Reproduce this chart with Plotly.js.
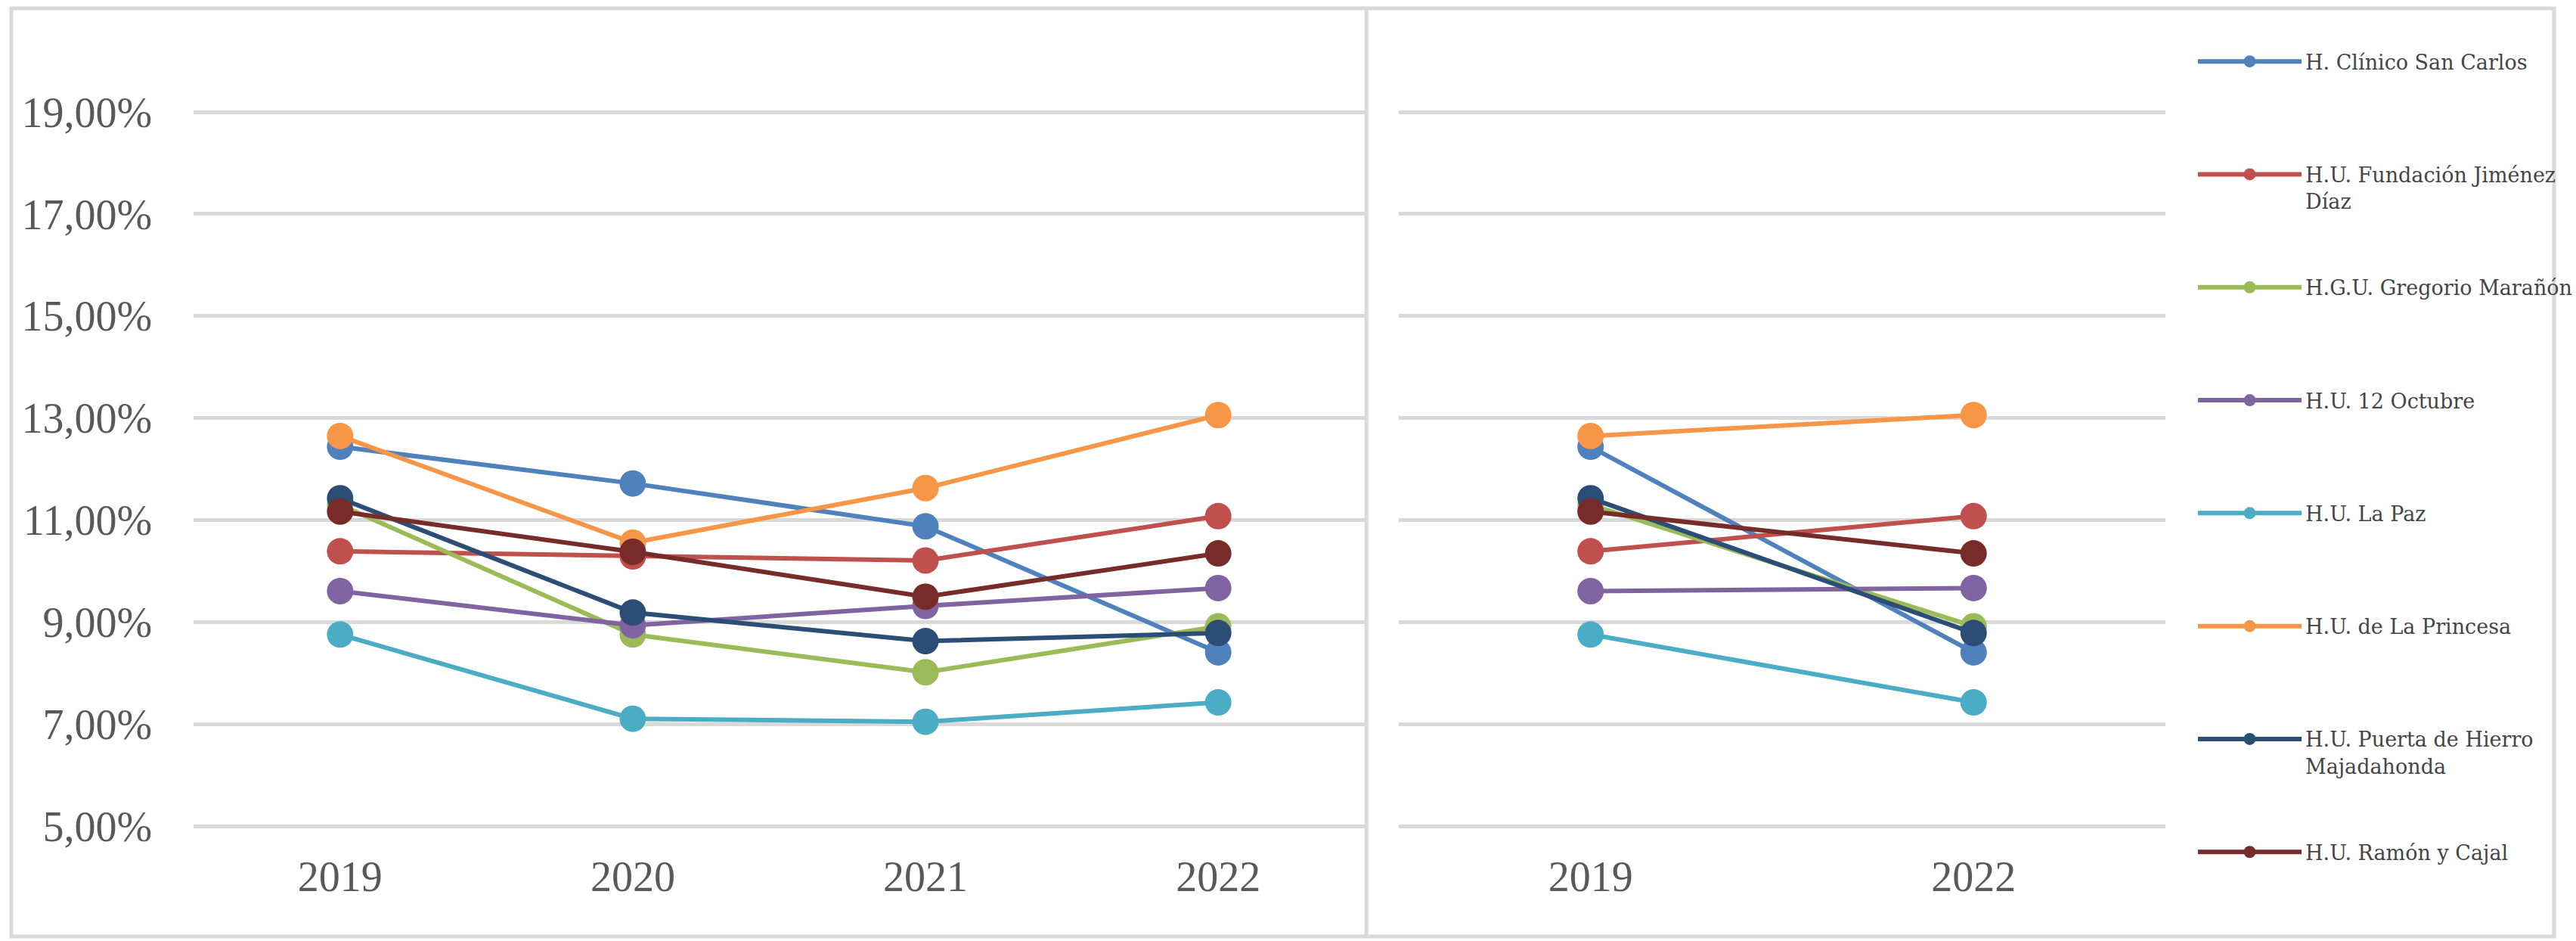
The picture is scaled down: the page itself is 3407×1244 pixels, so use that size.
<!DOCTYPE html>
<html>
<head>
<meta charset="utf-8">
<script src="https://cdn.plot.ly/plotly-3.0.1.min.js"></script>
<style>html,body{margin:0;padding:0;background:#fff;}#chart{width:3407px;height:1244px;}</style>
</head>
<body>
<div id="chart"></div>
<script>
// ---- data ----
const years = ['2019', '2020', '2021', '2022'];
const yearsRight = ['2019', '2022'];
const hospitals = [
  'H. Clínico San Carlos',
  'H.U. Fundación Jiménez<br>Díaz',
  'H.G.U. Gregorio Marañón',
  'H.U. 12 Octubre',
  'H.U. La Paz',
  'H.U. de La Princesa',
  'H.U. Puerta de Hierro<br>Majadahonda',
  'H.U. Ramón y Cajal'
];
const clinicoSanCarlos   = [12.44, 11.72, 10.88, 8.41];
const fundacionJimenez   = [10.39, 10.29, 10.21, 11.08];
const gregorioMaranon    = [11.30, 8.76, 8.02, 8.92];
const doceOctubre        = [9.61, 8.94, 9.32, 9.67];
const laPaz              = [8.76, 7.11, 7.05, 7.43];
const laPrincesa         = [12.65, 10.56, 11.63, 13.06];
const puertaHierro       = [11.43, 9.19, 8.63, 8.79];
const ramonCajal         = [11.17, 10.38, 9.50, 10.35];
const yTickVals  = [5, 7, 9, 11, 13, 15, 17, 19];
const yTickText  = ['5,00%', '7,00%', '9,00%', '11,00%', '13,00%', '15,00%', '17,00%', '19,00%'];

const series = [clinicoSanCarlos, fundacionJimenez, gregorioMaranon, doceOctubre,
                laPaz, laPrincesa, puertaHierro, ramonCajal];
const colors = ['#4F81BD', '#C0504D', '#9BBB59', '#8064A2', '#4BACC6', '#F79646', '#2C4D75', '#772C2A'];

const W = 3407, H = 1244;
const traces = [];
series.forEach((vals, i) => {
  const lines = hospitals[i].split('<br>');
  const label = '\u00a0<br>' + lines[0] + '<br>' + (lines[1] || '\u00a0');
  traces.push({
    x: years, y: vals, type: 'scatter', mode: 'lines+markers',
    name: label, legendgroup: 'g' + i, showlegend: true,
    line: {color: colors[i], width: 6},
    marker: {color: colors[i], size: 35},
    xaxis: 'x', yaxis: 'y', hoverinfo: 'skip'
  });
  traces.push({
    x: yearsRight, y: [vals[0], vals[3]], type: 'scatter', mode: 'lines+markers',
    name: label, legendgroup: 'g' + i, showlegend: false,
    line: {color: colors[i], width: 6},
    marker: {color: colors[i], size: 35},
    xaxis: 'x2', yaxis: 'y2', hoverinfo: 'skip'
  });
});

const tickFont = {family: 'Liberation Serif, serif', size: 56, color: '#595959'};
const yBottom = 1094.5, yTop = 146;
const yDom = [(H - yBottom) / H, (H - yTop) / H];
const layout = {
  width: W, height: H,
  margin: {l: 0, r: 0, t: 0, b: 0},
  paper_bgcolor: '#ffffff', plot_bgcolor: 'rgba(0,0,0,0)',
  showlegend: true,
  legend: {
    x: 2922 / W, xanchor: 'left', y: 1 - 22 / H, yanchor: 'top',
    font: {family: 'DejaVu Serif, serif', size: 27, color: '#454545'},
    itemwidth: 137, tracegroupgap: 41, traceorder: 'grouped',
    bgcolor: 'rgba(0,0,0,0)', itemsizing: 'trace'
  },
  xaxis: {
    domain: [258 / W, 1817 / W], type: 'category', categoryarray: years,
    range: [-0.5, 3.5], showgrid: false, zeroline: false, showline: false,
    ticks: '', tickfont: tickFont, ticklabelstandoff: 26, fixedrange: true
  },
  xaxis2: {
    domain: [1863 / W, 2883 / W], type: 'category', categoryarray: yearsRight, anchor: 'y2',
    range: [-0.5, 1.5], showgrid: false, zeroline: false, showline: false,
    ticks: '', tickfont: tickFont, ticklabelstandoff: 26, fixedrange: true
  },
  yaxis: {
    domain: yDom, range: [4.97, 19.03], tickvals: yTickVals, ticktext: yTickText,
    showgrid: true, gridcolor: '#d9d9d9', gridwidth: 5, zeroline: false, showline: false,
    ticks: '', tickfont: tickFont, ticklabelstandoff: 54, fixedrange: true
  },
  yaxis2: {
    domain: yDom, range: [4.97, 19.03], tickvals: yTickVals, showticklabels: false, anchor: 'x2',
    showgrid: true, gridcolor: '#d9d9d9', gridwidth: 5, zeroline: false, showline: false,
    ticks: '', fixedrange: true
  },
  shapes: [
    {type: 'rect', xref: 'paper', yref: 'paper', x0: 15 / W, x1: 3401 / W, y0: 1 - 1238 / H, y1: 1 - 11 / H,
     line: {color: '#d9d9d9', width: 5}, fillcolor: 'rgba(0,0,0,0)', layer: 'below'},
    {type: 'line', xref: 'paper', yref: 'paper', x0: 1819.5 / W, x1: 1819.5 / W, y0: 1 - 1238 / H, y1: 1 - 11 / H,
     line: {color: '#d9d9d9', width: 5}, layer: 'below'}
  ]
};

Plotly.newPlot('chart', traces, layout, {staticPlot: true, displayModeBar: false});
</script>
</body>
</html>
